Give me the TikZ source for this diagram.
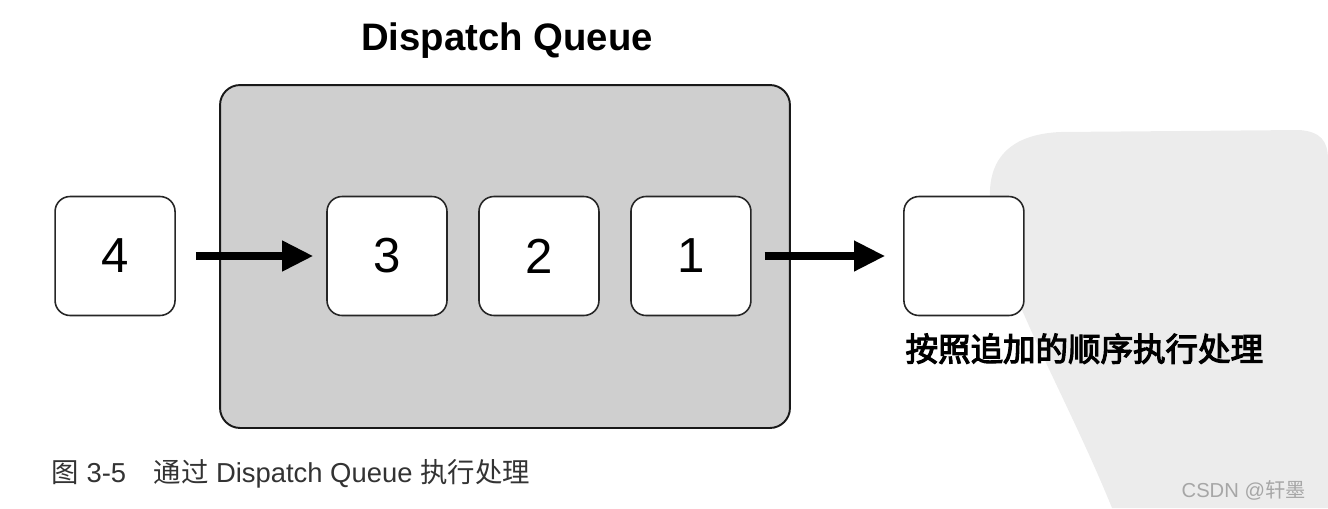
\documentclass[tikz,border=0pt]{standalone}
\usepackage{fontspec}
\setmainfont{Liberation Sans}
\newfontfamily\cjk{Noto Sans CJK SC}
\newfontfamily\cjkbold{Noto Sans CJK SC}[FakeBold=3.5]
\usetikzlibrary{positioning,arrows.meta}

\begin{document}
\begin{tikzpicture}[x=0.02cm, y=-0.02cm, node distance=3.04cm, thick,
    box/.style={draw=black!85, fill=white, rounded corners=0.3cm, minimum width=2.4cm, minimum height=2.38cm, line width=0.9pt, font=\fontsize{28}{30}\selectfont},
    queue/.style={draw=black!90, fill=gray!38, rounded corners=0.4cm, line width=1.1pt, minimum width=11.4cm, minimum height=6.86cm},
    flow/.style={-{Triangle[length=0.62cm,width=0.58cm]}, line width=4pt}]
    \useasboundingbox (0,0) rectangle (1328,508);

    % Watermark
    \fill[gray!15] (1112,508) .. controls (1060,380) and (985,260) .. (990,190)
        .. controls (992,150) and (1020,134) .. (1060,132) -- (1300,130)
        .. controls (1320,132) and (1328,140) .. (1328,160) -- (1328,508) -- cycle;
    \node[anchor=east, text=gray!70, font=\fontsize{11.5}{13}\selectfont] (mark) at (1312,490) {CSDN @{\cjk 轩墨}};

    % Queue
    \node[queue] (q) at (505,256.5) {};
    \node[font=\bfseries\fontsize{21.8}{24}\selectfont] (title) at (507,41) {Dispatch Queue};

    % Define blocks
    \node[box] (b3) at (387,256) {3};
    \node[box, right of=b3] (b2) {2};
    \node[box, right of=b2] (b1) {1};
    \node[box, left of=b3, node distance=5.44cm] (b4) {4};
    \node[box, right of=b1, node distance=5.46cm] (out) {};

    % Flow
    \draw[flow, shorten <=0.4cm, shorten >=0.26cm] (b4) -- (b3);
    \draw[flow, shorten <=0.26cm, shorten >=0.36cm] (b1) -- (out);

    % Labels
    \node[anchor=north west, font=\cjkbold\fontsize{18.5}{20}\selectfont] (done) at (899,327) {按照追加的顺序执行处理};
    \node[anchor=west, text=black!80, font=\fontsize{15.6}{17}\selectfont] (cap) at (45,474) {{\cjk 图} 3-5\quad{\cjk 通过} Dispatch Queue {\cjk 执行处理}};

\end{tikzpicture}
\end{document}
